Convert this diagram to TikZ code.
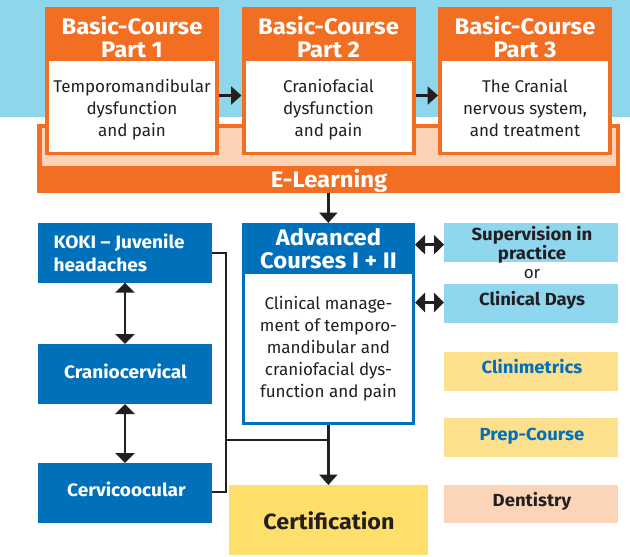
\documentclass[tikz,border=0pt]{standalone}
\usepackage{fontspec}
\setmainfont{Fira Sans}
\newfontfamily\hdfont[FakeStretch=1.06]{Fira Sans}
\usetikzlibrary{arrows.meta}
\definecolor{band}{HTML}{8DD6EC}
\definecolor{org}{HTML}{F26E22}
\definecolor{peach}{HTML}{FCD3B6}
\definecolor{dblue}{HTML}{0070BA}
\definecolor{lblue}{HTML}{8ED7EE}
\definecolor{cyel}{HTML}{FFDF6C}
\definecolor{lyel}{HTML}{FDE08E}
\definecolor{dent}{HTML}{FCD5B8}
\definecolor{ink}{HTML}{231F20}
\tikzset{
  rbox/.style={inner sep=0pt, outer sep=0pt, draw=none},
  ttl/.style={text=white, font=\hdfont\bfseries\fontsize{22.5}{23.4}\selectfont, align=center, inner sep=0pt},
  body/.style={text=ink, font=\fontsize{17}{22}\selectfont, align=center, inner sep=0pt},
  lbl/.style={text=white, font=\hdfont\bfseries\fontsize{18}{22.4}\selectfont, align=center, inner sep=0pt},
  rlbl/.style={text=ink, font=\hdfont\bfseries\fontsize{17.5}{19}\selectfont, align=center, inner sep=0pt},
  conn/.style={draw=ink, line width=2.5pt},
  arr/.style={conn, -{Triangle[length=10.5pt,width=18pt]}},
  darr/.style={conn, {Triangle[length=10pt,width=19pt]}-{Triangle[length=10pt,width=19pt]}},
}
\begin{document}
\begin{tikzpicture}[x=1pt,y=-1pt]
\useasboundingbox (0,0) rectangle (630,557);
\fill[band] (0,0) rectangle (630,117);
% E-Learning
\node[rbox, fill=org, minimum width=582.7pt, minimum height=69.3pt] (el) at (328.65,158.65) {};
\node[rbox, fill=peach, minimum width=574pt, minimum height=38.3pt] (elp) at (328.7,146.85) {};
\node[ttl, anchor=base] (elt) at (329,187.3) {E-Learning};
% Basic courses
\foreach \n/\cx/\t/\b/\by in {1/132/{Basic-Course\\Part 1}/{Temporomandibular\\dysfunction\\and pain}/110,
                          2/328.5/{Basic-Course\\Part 2}/{Craniofacial\\dysfunction\\and pain}/110,
                          3/525/{Basic-Course\\Part 3}/{The Cranial\\nervous system,\\and treatment}/108}{
  \node[rbox, fill=org, minimum width=174pt, minimum height=148pt] (b\n) at (\cx,81) {};
  \node[rbox, fill=white, minimum width=166pt, minimum height=90.7pt] (b\n w) at (\cx,106.35) {};
  \node[ttl] (b\n t) at (\cx,37) {\t};
  \node[body] (b\n b) at (\cx,\by) {\b};
}
\draw[arr] ([yshift=-14.5pt]b1.east) -- ([yshift=-14.5pt]b2.west);
\draw[arr] ([yshift=-14.5pt]b2.east) -- ([yshift=-14.5pt]b3.west);
% Advanced
\node[rbox, fill=dblue, minimum width=173.3pt, minimum height=202pt] (adv) at (328.35,324) {};
\node[rbox, fill=white, minimum width=166.6pt, minimum height=148pt] (advw) at (328.35,348) {};
\node[ttl] (advt) at (328.5,248.5) {Advanced\\Courses I + II};
\node[body] (advb) at (328.5,349) {Clinical manage-\\ment of temporo-\\mandibular and\\craniofacial dys-\\function and pain};
\draw[arr] (adv.north |- el.south) -- (adv.north);
% Left boxes
\node[rbox, fill=dblue, minimum width=173.4pt, minimum height=59.4pt] (koki) at (125,253) {};
\node[lbl, align=left, anchor=west] (kokit) at (53.3,253) {KOKI – Juvenile\\headaches};
\node[rbox, fill=dblue, minimum width=173.4pt, minimum height=60pt] (cran) at (125,374) {};
\node[lbl, anchor=base] (crant) at (125.5,378.3) {Craniocervical};
\node[rbox, fill=dblue, minimum width=173.4pt, minimum height=60pt] (cerv) at (125,493) {};
\node[lbl, anchor=base] (cervt) at (126.5,496.7) {Cervicoocular};
\draw[darr] (koki.south) -- (cran.north);
\draw[darr] (cran.south) -- (cerv.north);
% Certification
\node[rbox, fill=cyel, minimum width=199pt, minimum height=69.5pt] (cert) at (328.8,519.75) {};
\node[text=ink, font=\hdfont\bfseries\fontsize{22}{26}\selectfont, inner sep=0pt, anchor=base] (certt) at (329,529) {Certification};
\coordinate (jx) at (226,440);
\draw[conn] (koki.east) -| (jx);
\draw[conn] ([yshift=1pt]cerv.east) -| (jx);
\draw[conn] (jx) -- (jx -| adv.south);
\draw[arr] (adv.south) -- (adv.south |- cert.north);
% Right boxes
\node[rbox, fill=lblue, minimum width=174pt, minimum height=38.7pt] (sup) at (531,242.65) {};
\node[rlbl] (supt) at (532,244.5) {Supervision in\\practice};
\node[text=ink, font=\fontsize{17}{19}\selectfont, inner sep=0pt, anchor=base] (ort) at (532,278.7) {or};
\node[rbox, fill=lblue, minimum width=174pt, minimum height=39pt] (cd) at (531,303.5) {};
\node[rlbl, anchor=base] (cdt) at (532,305.5) {Clinical Days};
\node[rbox, fill=lyel, minimum width=174pt, minimum height=39pt] (clin) at (531,371.5) {};
\node[rlbl, text=dblue, anchor=base] (clint) at (532,373.3) {Clinimetrics};
\node[rbox, fill=lyel, minimum width=174pt, minimum height=38.4pt] (prep) at (531,437.5) {};
\node[rlbl, text=dblue, anchor=base] (prept) at (532,440) {Prep-Course};
\node[rbox, fill=dent, minimum width=174pt, minimum height=38.3pt] (dnt) at (531,504.15) {};
\node[rlbl, anchor=base] (dntt) at (532,506) {Dentistry};
\draw[darr] ([yshift=-2pt]sup.west -| adv.east) -- ([yshift=-2pt]sup.west);
\draw[darr] ([yshift=1pt]cd.west -| adv.east) -- ([yshift=1pt]cd.west);
\end{tikzpicture}
\end{document}
